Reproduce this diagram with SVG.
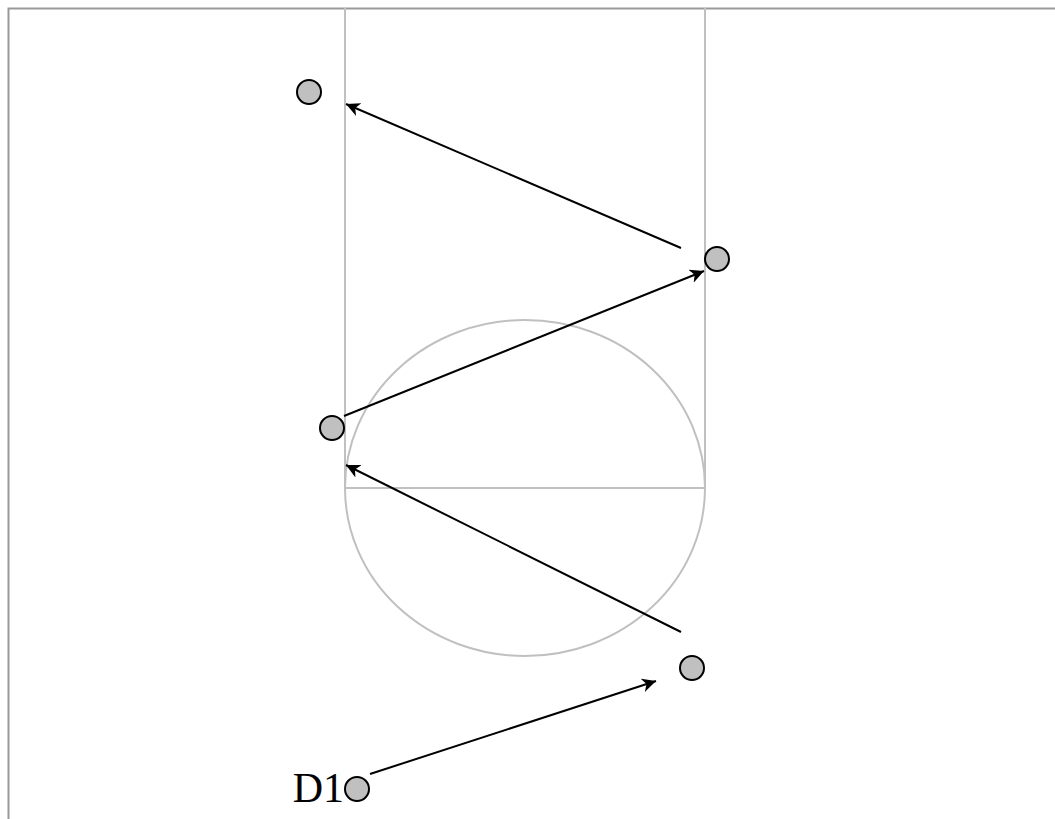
<svg xmlns="http://www.w3.org/2000/svg" width="1055" height="819" viewBox="0 0 1055 819">
<style>
.frame{fill:none;stroke:#999;stroke-width:2}
.lane{fill:none;stroke:#c0c0c0;stroke-width:2}
.node{fill:#c0c0c0;stroke:#000;stroke-width:2}
.conn{fill:none;stroke:#000;stroke-width:2;marker-end:url(#arr)}
.lbl{font-family:"Liberation Serif","Times New Roman",serif;font-size:42px;fill:#000}
</style>
<defs>
<marker id="arr" markerUnits="userSpaceOnUse" markerWidth="16" markerHeight="14" viewBox="0 0 16 14" refX="14" refY="7" orient="auto">
<path d="M0,0 L14,7 L0,14 L4,7 z" fill="#000"/>
</marker>
</defs>
<rect class="frame" x="8.5" y="8.5" width="1100" height="900"/>
<g id="field">
<path class="lane" d="M345,8 V488 M705,8 V488 M345,488 H705"/>
<ellipse class="lane" cx="525" cy="488" rx="180" ry="168"/>
</g>
<g id="connectors">
<line class="conn" x1="681" y1="248" x2="346" y2="104"/>
<line class="conn" x1="344" y1="416" x2="704" y2="271"/>
<line class="conn" x1="681" y1="632" x2="346" y2="465"/>
<line class="conn" x1="370" y1="774" x2="656" y2="681"/>
</g>
<g id="n1"><circle class="node" cx="309" cy="92" r="12"/></g>
<g id="n2"><circle class="node" cx="717" cy="259" r="12"/></g>
<g id="n3"><circle class="node" cx="332" cy="428" r="12"/></g>
<g id="n4"><circle class="node" cx="692" cy="668" r="12"/></g>
<g id="d1"><circle class="node" cx="357" cy="789" r="12"/><text class="lbl" x="344" y="802" text-anchor="end">D1</text></g>
</svg>
